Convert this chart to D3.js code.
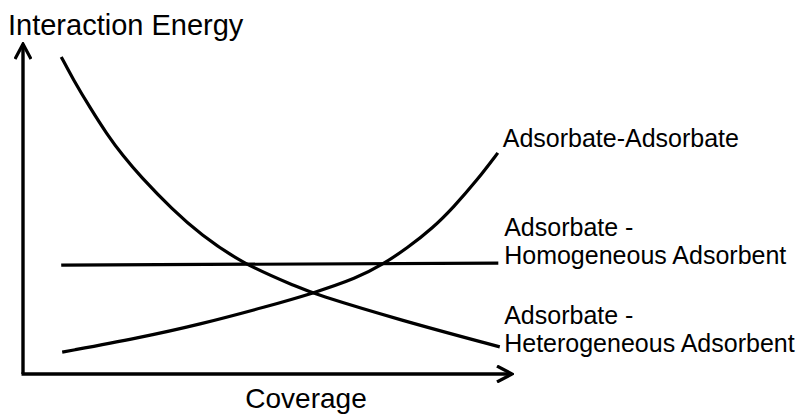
<!DOCTYPE html>
<html>
<head>
<meta charset="utf-8">
<script src="https://cdn.jsdelivr.net/npm/d3@7"></script>
<style>
    body { margin: 0; background: #fff; }
    svg text { font-family: "Liberation Sans", Arial, sans-serif; fill: #000; }
</style>
</head>
<body>
<div id="chart"></div>
<script>
// Values in chart units: coverage 0-100 (x), interaction energy 0-100 (y)
const heterogeneous = [
    [7.8, 95.8], [10.2, 89.1], [13.7, 80.4], [17.1, 72.5], [20.4, 65.9],
    [23.9, 59.8], [30.6, 49.5], [36.1, 42.3], [44.9, 33.2], [56.5, 26.0],
    [59.2, 24.3], [76.9, 16.3], [97.3, 8.2]
];
const homogeneous = [[7.8, 32.9], [97.0, 33.5]];
const adsorbateAdsorbate = [
    [8.0, 6.6], [23.9, 11.0], [36.1, 15.0], [49.8, 20.4], [59.2, 24.4],
    [68.2, 29.0], [73.3, 33.0], [78.4, 38.0], [83.7, 44.2], [87.8, 50.3],
    [92.7, 58.6], [96.9, 66.8]
];

const labels = [
    {lines: ["Adsorbate-Adsorbate"], at: [97.9, 68.5]},
    {lines: ["Adsorbate -", "Homogeneous Adsorbent"], at: [98.2, 33.3]},
    {lines: ["Adsorbate -", "Heterogeneous Adsorbent"], at: [98.2, 6.7]}
];
const xTitle = "Coverage";
const yTitle = "Interaction Energy";

const width = 806, height = 417;

const svg = d3.select("#chart").append("svg")
    .attr("width", width)
    .attr("height", height);

const x = d3.scaleLinear().domain([0, 100]).range([23, 513]);
const y = d3.scaleLinear().domain([0, 100]).range([374, 43]);

// open arrow head
svg.append("defs").append("marker")
    .attr("id", "arrow")
    .attr("viewBox", "-16 -9 18 18")
    .attr("refX", 0)
    .attr("refY", 0)
    .attr("markerUnits", "userSpaceOnUse")
    .attr("markerWidth", 18)
    .attr("markerHeight", 18)
    .attr("orient", "auto")
    .append("path")
    .attr("d", "M-15,-8L0,0L-15,8")
    .attr("fill", "none")
    .attr("stroke", "#000")
    .attr("stroke-width", 3.2);

// axes
const axes = svg.append("g")
    .attr("fill", "none")
    .attr("stroke", "#000")
    .attr("stroke-width", 3.4);

axes.append("path")
    .attr("d", "M" + x(0) + "," + y(0) + "L" + x(0) + "," + (y(100) + 1))
    .attr("marker-end", "url(#arrow)");
axes.append("path")
    .attr("d", "M" + (x(0) - 1.5) + "," + y(0) + "L" + (x(100) - 1) + "," + y(0))
    .attr("marker-end", "url(#arrow)");

const line = d3.line()
    .x(d => x(d[0]))
    .y(d => y(d[1]))
    .curve(d3.curveBasis);

svg.append("g")
    .selectAll("path.curve")
    .data([heterogeneous, homogeneous, adsorbateAdsorbate])
    .enter()
    .append("path")
    .classed("curve", true)
    .attr("d", line)
    .attr("fill", "none")
    .attr("stroke", "#000")
    .attr("stroke-width", 3.2)
    .attr("stroke-linecap", "butt");

// curve labels
const lab = svg.append("g").selectAll("text.label")
    .data(labels)
    .enter()
    .append("text")
    .classed("label", true)
    .attr("font-size", 25)
    .attr("x", d => x(d.at[0]))
    .attr("y", d => y(d.at[1]) - (d.lines.length - 1) * 28);

lab.selectAll("tspan")
    .data(d => d.lines.map(l => ({l: l, x0: x(d.at[0])})))
    .enter()
    .append("tspan")
    .attr("x", d => d.x0)
    .attr("dy", (d, i) => i ? 28 : 0)
    .text(d => d.l);

svg.append("text")
    .attr("x", 8)
    .attr("y", 35)
    .attr("font-size", 29)
    .text(yTitle);

svg.append("text")
    .attr("x", 306)
    .attr("y", 408)
    .attr("text-anchor", "middle")
    .attr("font-size", 28)
    .text(xTitle);
</script>
</body>
</html>
